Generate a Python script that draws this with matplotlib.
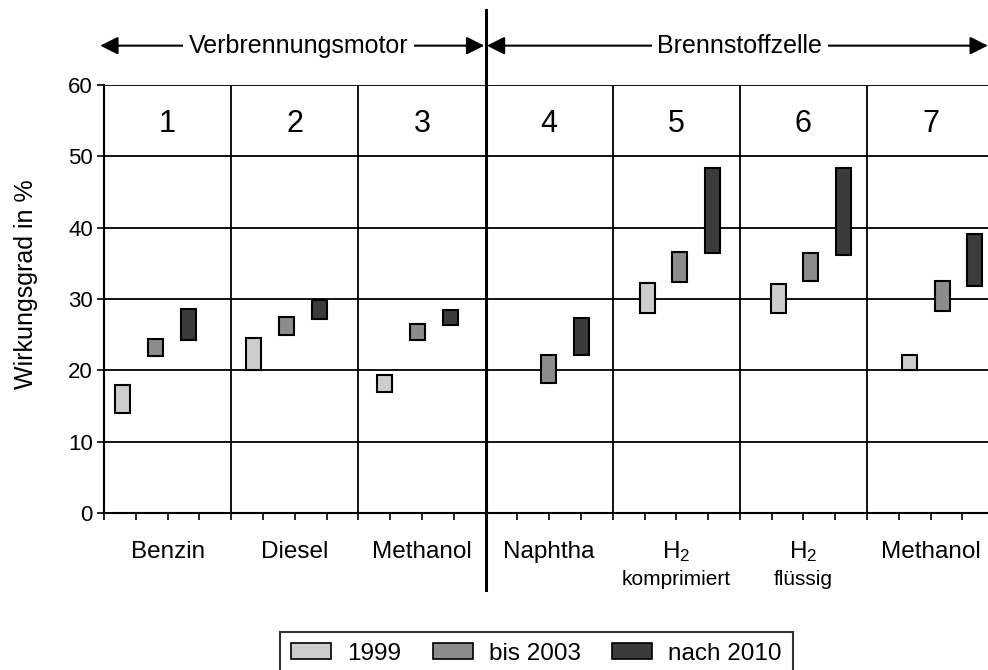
import numpy as np
import matplotlib
matplotlib.use("Agg")
import matplotlib.pyplot as plt
from matplotlib.patches import Patch

plt.rcParams["font.family"] = ["Liberation Sans", "DejaVu Sans"]

# Wirkungsgrad-Bereiche (von/bis in %) je Kraftstoff und Zeitraum
group_numbers = ["1", "2", "3", "4", "5", "6", "7"]
fuels = ["Benzin", "Diesel", "Methanol", "Naphtha", r"$\mathregular{H_2}$", r"$\mathregular{H_2}$", "Methanol"]
fuel_notes = ["", "", "", "", "komprimiert", "flüssig", ""]
periods = ["1999", "bis 2003", "nach 2010"]

low_1999 = [14, 20, 17, np.nan, 28, 28, 20]
high_1999 = [18, 24.5, 19.3, np.nan, 32.3, 32.1, 22.2]
low_2003 = [22, 25, 24.2, 18.2, 32.4, 32.5, 28.3]
high_2003 = [24.4, 27.5, 26.5, 22.2, 36.6, 36.4, 32.5]
low_2010 = [24.3, 27.2, 26.3, 22.2, 36.4, 36.2, 31.8]
high_2010 = [28.6, 29.9, 28.5, 27.3, 48.4, 48.4, 39.1]

colors = ["#cdcdcd", "#8c8c8c", "#3b3b3b"]

fig = plt.figure(figsize=(9.88, 6.7), dpi=100)
ax = fig.add_axes([0.1053, 0.2343, 0.901, 0.6388])

n = len(fuels)
ax.set_xlim(0, n)
ax.set_ylim(0, 60)

# bars sit on an even slot grid, one empty slot between groups
x0, slot, width = 0.147, 0.2577, 0.118
series = [(low_1999, high_1999), (low_2003, high_2003), (low_2010, high_2010)]
for j, (lo, hi) in enumerate(series):
    lo = np.array(lo, dtype=float)
    hi = np.array(hi, dtype=float)
    xs = x0 + slot * (4 * np.arange(n) + j)
    ok = ~np.isnan(lo)
    ax.bar(xs[ok], (hi - lo)[ok], bottom=lo[ok], width=width,
           color=colors[j], edgecolor="black", linewidth=1.5, zorder=3)

# grid
for y in range(10, 61, 10):
    ax.axhline(y, color="black", lw=1.3, zorder=1)
for g in range(1, n):
    if g != 3:
        ax.axvline(g, color="black", lw=1.3, zorder=1)

ax.plot([3, 3], [-0.18, 1.175], color="black", lw=2.2,
        transform=ax.get_xaxis_transform(), clip_on=False, zorder=4)

for s in ["top", "right"]:
    ax.spines[s].set_visible(False)
ax.spines["left"].set_linewidth(1.5)
ax.spines["bottom"].set_linewidth(1.5)

ax.set_yticks(range(0, 61, 10))
ax.set_xticks(np.arange(0, n + 0.01, 0.25))
ax.set_xticklabels([])
ax.tick_params(axis="y", direction="out", length=5, width=1.2, labelsize=16, pad=3)
ax.tick_params(axis="x", direction="out", length=5, width=1.2)
ax.set_ylabel("Wirkungsgrad in %", fontsize=18)
ax.yaxis.set_label_coords(-0.074, 0.535)

# group numbers and fuel labels
trans = ax.get_xaxis_transform()
for g in range(n):
    ax.text(g + 0.5, 53.4, group_numbers[g], fontsize=22, ha="center", va="baseline", zorder=5)
    ax.text(g + 0.5, -0.105, fuels[g], fontsize=17.5, ha="center", va="baseline", transform=trans)
    if fuel_notes[g]:
        ax.text(g + 0.5, -0.168, fuel_notes[g], fontsize=15, ha="center", va="baseline",
                transform=trans)

# section arrows above the plot
y_arrow = 1.092
arrow_kw = dict(arrowstyle="<|-|>", color="black", lw=1.5, mutation_scale=27,
                shrinkA=0, shrinkB=0)
ax.annotate("", xy=(-0.03, y_arrow), xytext=(2.99, y_arrow), xycoords=trans,
            arrowprops=arrow_kw, annotation_clip=False)
ax.annotate("", xy=(3.01, y_arrow), xytext=(6.95, y_arrow), xycoords=trans,
            arrowprops=arrow_kw, annotation_clip=False)
box = dict(facecolor="white", edgecolor="none", pad=4)
ax.text(1.53, y_arrow, "Verbrennungsmotor", fontsize=18, ha="center", va="center",
        transform=trans, bbox=box, zorder=5)
ax.text(5.0, y_arrow, "Brennstoffzelle", fontsize=18, ha="center", va="center",
        transform=trans, bbox=box, zorder=5)

handles = [Patch(facecolor=c, edgecolor="black", linewidth=1.2) for c in colors]
leg = fig.legend(handles, periods, loc="upper center", bbox_to_anchor=(0.543, 0.057),
                 ncol=3, fontsize=17.5, frameon=True, fancybox=False, edgecolor="black",
                 handlelength=1.65, handleheight=0.6, handletextpad=0.65,
                 columnspacing=1.3, borderpad=0.45, borderaxespad=0)
leg.get_frame().set_linewidth(1.5)

fig.savefig("out.png", dpi=100, facecolor="white")
